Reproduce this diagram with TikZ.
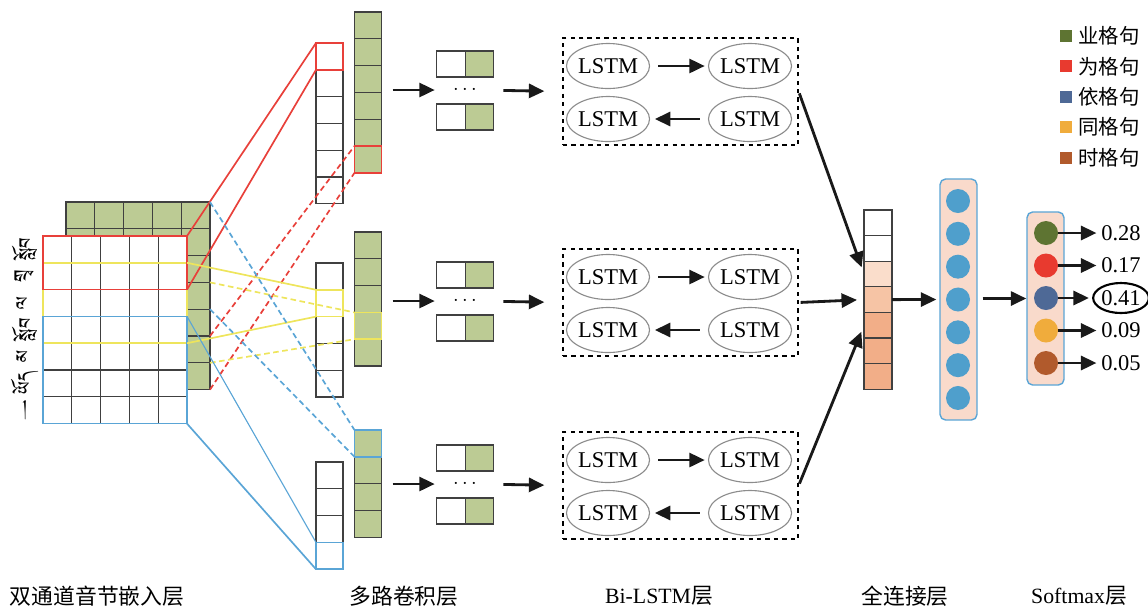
\documentclass[tikz,border=0pt]{standalone}
\usepackage{fontspec}
\setmainfont{Liberation Serif}
\newfontfamily\cjk{Noto Sans CJK SC}
\IfFontExistsTF{Jomolhari}{\newfontfamily\tib[Script=Tibetan]{Jomolhari}}{%
  \IfFontExistsTF{Tibetan Machine Uni}{\newfontfamily\tib[Script=Tibetan]{Tibetan Machine Uni}}{%
    \IfFontExistsTF{DDC Uchen}{\newfontfamily\tib[Script=Tibetan]{DDC Uchen}}{%
      \newfontfamily\tib{Noto Sans}}}}
\usetikzlibrary{arrows.meta,positioning,shapes.geometric}

\definecolor{gridgreen}{HTML}{BCCB94}
\definecolor{winred}{HTML}{E8403A}
\definecolor{winyellow}{HTML}{EEE55C}
\definecolor{winblue}{HTML}{5AA5D6}
\definecolor{peach}{HTML}{F9DACB}
\definecolor{fc3}{HTML}{FADDCB}
\definecolor{fc4}{HTML}{F6C4A5}
\definecolor{fc5}{HTML}{F2AE88}
\definecolor{unit}{HTML}{4F9FCC}
\definecolor{sm1}{HTML}{5E7432}
\definecolor{sm2}{HTML}{E83A2F}
\definecolor{sm3}{HTML}{4E6996}
\definecolor{sm4}{HTML}{F0AC3C}
\definecolor{sm5}{HTML}{B15A2C}

\tikzset{
  emb/.style={draw=black!75, line width=0.8pt, minimum width=0.72cm, minimum height=0.67cm, inner sep=0pt, outer sep=0pt},
  conv/.style={emb, minimum width=0.675cm},
  pair/.style={emb, minimum width=0.71cm, minimum height=0.65cm},
  fc/.style={emb, minimum width=0.7cm, minimum height=0.64cm},
  win/.style={line width=1.2pt},
  winlink/.style={line width=1.2pt, dash pattern=on 4pt off 2.5pt},
  arr/.style={-{Triangle[length=11pt,width=10pt]}, line width=2pt, draw=black!90},
  lstm/.style={ellipse, draw=black!45, line width=0.8pt, minimum width=2.075cm, minimum height=1.125cm, inner xsep=-4pt, inner ysep=0pt, font=\fontsize{16}{16}\selectfont},
  lstmbox/.style={draw, dashed, line width=0.9pt, minimum width=5.875cm, minimum height=2.675cm},
  layer/.style={draw=winblue, line width=1pt, fill=peach, rounded corners=4pt, minimum width=0.925cm},
  neuron/.style={circle, minimum size=0.6cm, inner sep=0pt},
  num/.style={font=\fontsize{16}{16}\selectfont, inner sep=1pt},
  ring/.style={ellipse, draw, line width=1.5pt, minimum width=1.15cm, minimum height=0.75cm, inner sep=0pt},
  noring/.style={},
  captext/.style={font=\cjk\fontsize{15.5}{16}\selectfont},
  legsq/.style={minimum size=0.3cm, inner sep=0pt},
  tibtxt/.style={rotate=90, font=\tib\fontsize{16}{16}\selectfont, inner sep=0pt}
}

\begin{document}
\begin{tikzpicture}[x=0.025cm, y=-0.025cm]
\useasboundingbox (0,0) rectangle (1148,608);

% Embedding, second channel (behind)
\foreach \r in {1,...,7}
  \foreach \c in {1,...,5}
    \node[emb, fill=gridgreen] (b-\r-\c) at ({80.4+(\c-1)*28.8}, {215.4+(\r-1)*26.8}) {};
% Embedding, first channel
\foreach \r in {1,...,7}
  \foreach \c in {1,...,5}
    \node[emb, fill=white] (f-\r-\c) at ({57.4+(\c-1)*28.8}, {249.4+(\r-1)*26.8}) {};

% windows on the first channel
\draw[win, winyellow] (f-2-1.north west) rectangle (f-4-5.south east);
\draw[win, winblue] (f-4-1.north west) rectangle (f-7-5.south east);
\draw[win, winred] (f-1-1.north west) rectangle (f-2-5.south east);

% syllables
\foreach \s [count=\r] in {སློབ,གྲྭ,ལ,སློབ,མ,ཡོད}
  \node[tibtxt] (syl\r) at (25, {249.4+(\r-1)*26.8}) {\s};
\node[font=\tib\fontsize{16}{16}\selectfont, inner sep=0pt] (syl7) at (25, 410) {།};

% Convolution columns
\foreach \i in {1,...,6} \node[conv] (k1-\i) at (329.5, {43+(\i-0.5)*26.8}) {};
\foreach \i in {1,...,6} \node[conv, fill=gridgreen] (g1-\i) at (368, {12+(\i-0.5)*26.8}) {};
\foreach \i in {1,...,5} \node[conv] (k2-\i) at (329.5, {263+(\i-0.5)*26.8}) {};
\foreach \i in {1,...,5} \node[conv, fill=gridgreen] (g2-\i) at (368, {232+(\i-0.5)*26.8}) {};
\foreach \i in {1,...,4} \node[conv] (k3-\i) at (329.5, {462+(\i-0.5)*26.8}) {};
\foreach \i in {1,...,4} \node[conv, fill=gridgreen] (g3-\i) at (368, {430+(\i-0.5)*26.8}) {};

\draw[win, winred] (k1-1.north west) rectangle (k1-1.south east);
\draw[win, winred] (g1-6.north west) rectangle (g1-6.south east);
\draw[win, winyellow] (k2-2.north west) rectangle (k2-2.south east);
\draw[win, winyellow] (g2-4.north west) rectangle (g2-4.south east);
\draw[win, winblue] (k3-4.north west) rectangle (k3-4.south east);
\draw[win, winblue] (g3-1.north west) rectangle (g3-1.south east);

% window links
\draw[win, winred] (f-1-5.north east) -- (k1-1.north west);
\draw[win, winred] (f-2-5.south east) -- (k1-1.south west);
\draw[winlink, winred] (b-6-5.north east) -- (g1-6.north west);
\draw[winlink, winred] (b-7-5.south east) -- (g1-6.south west);
\draw[win, winyellow] (f-2-5.north east) -- (k2-2.north west);
\draw[win, winyellow] (f-4-5.south east) -- (k2-2.south west);
\draw[winlink, winyellow] (b-4-5.north east) -- (g2-4.north west);
\draw[winlink, winyellow] (b-6-5.south east) -- (g2-4.south west);
\draw[line width=0.8pt, winblue] (f-4-5.north east) -- (k3-4.north west);
\draw[win, winblue] (f-7-5.south east) -- (k3-4.south west);
\draw[winlink, winblue] (b-1-5.north east) -- (g3-1.north west);
\draw[winlink, winblue] (b-4-5.south east) -- (g3-1.south west);

% Bi-LSTM rows
\foreach \r/\y/\g in {1/90/g1-1, 2/301/g2-1, 3/484/g3-1} {
  \node[pair] (pa\r) at (451,\y-26) {};
  \node[pair, fill=gridgreen, right=0pt of pa\r] (pb\r) {};
  \node[pair] (pc\r) at (451,\y+27) {};
  \node[pair, fill=gridgreen, right=0pt of pc\r] (pd\r) {};
  \node[minimum width=0.7cm, inner sep=0pt, font=\fontsize{14}{14}\selectfont] (dots\r) at (465,\y) {$\cdots$};
  \draw[arr, shorten <=0.275cm, shorten >=0.4cm] (\g.east |- dots\r) -- (dots\r.west);
  \node[lstmbox] (bl\r) at (680.5,\y+1.5) {};
  \draw[arr, shorten <=0.6cm, shorten >=0.45cm] (dots\r.east) -- (bl\r.west);
  \node[lstm] (la\r) at (608,\y-24) {LSTM};
  \node[lstm] (lb\r) at (750,\y-24) {LSTM};
  \node[lstm] (lc\r) at (608,\y+29) {LSTM};
  \node[lstm] (ld\r) at (750,\y+29) {LSTM};
  \draw[arr, shorten <=0.2cm, shorten >=0.08cm] (la\r) -- (lb\r);
  \draw[arr, shorten <=0.2cm, shorten >=0.12cm] (ld\r) -- (lc\r);
}

% Fully connected
\foreach \i/\col in {1/white,2/white,3/fc3,4/fc4,5/fc5,6/fc5,7/fc5}
  \node[fc, fill=\col] (cc-\i) at (878, {210+(\i-0.5)*25.6}) {};
\draw[arr, shorten <=0.05cm, shorten >=0.175cm] (bl1.east) -- (cc-3.west);
\draw[arr, shorten <=0.05cm, shorten >=0.175cm] (bl2.east) -- (cc-4.west);
\draw[arr, shorten <=0.05cm, shorten >=0.175cm] (bl3.east) -- (cc-5.west);

\node[layer, minimum height=6.025cm] (dense) at (958.5,299.5) {};
\foreach \i in {1,...,7}
  \node[neuron, fill=unit] (d\i) at (958, {201+(\i-1)*32.83}) {};
\draw[arr, shorten >=0.075cm] (cc-4.east) -- (dense.west);

% Softmax
\node[layer, minimum height=4.325cm] (soft) at (1045.5,298.5) {};
\draw[arr, shorten <=0.125cm] (dense.east |- soft) -- (soft.west);
\foreach \i/\y/\v/\opt in {1/233/0.28/noring, 2/265.5/0.17/noring, 3/298/0.41/ring, 4/330.5/0.09/noring, 5/363/0.05/noring} {
  \node[neuron, fill=sm\i] (s\i) at (1046,\y) {};
  \node[num, \opt] (o\i) at (1121,\y) {\v};
  \draw[arr, shorten >=0.08cm] (s\i) -- (o\i);
}

% legend
\foreach \i/\t in {1/业格句, 2/为格句, 3/依格句, 4/同格句, 5/时格句} {
  \node[legsq, fill=sm\i] (lg\i) at (1066, {36+(\i-1)*30.4}) {};
  \node[right=0.15cm of lg\i, font=\cjk\fontsize{14.5}{15}\selectfont, inner sep=0pt] (lt\i) {\t};
}

% captions
\node[captext] (capEmb) at (97,596) {双通道音节嵌入层};
\node[captext] (capConv) at (404,596) {多路卷积层};
\node[captext] (capLstm) at (659,596) {\fontspec{Liberation Serif}Bi-LSTM\cjk 层};
\node[captext] (capFc) at (905,596) {全连接层};
\node[captext] (capSoft) at (1079,596) {\fontspec{Liberation Serif}Softmax\cjk 层};
\end{tikzpicture}
\end{document}
